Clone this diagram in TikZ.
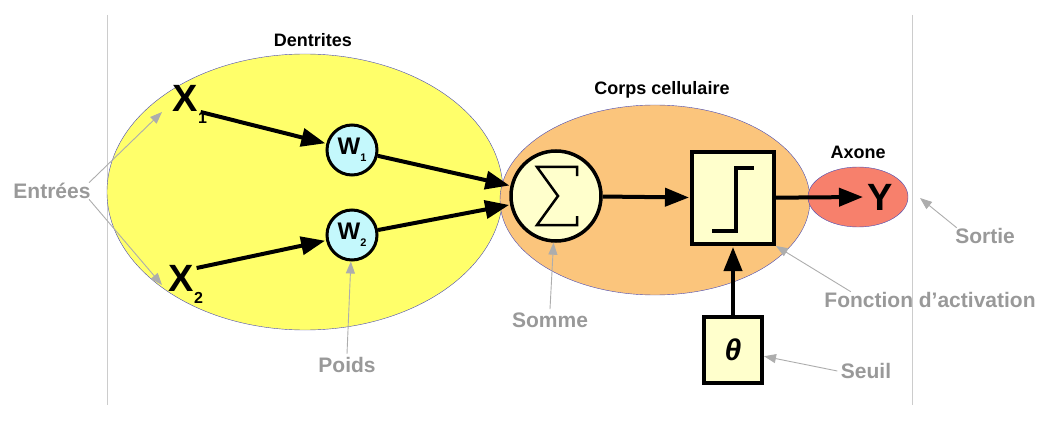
\documentclass[tikz,border=0pt]{standalone}
\usepackage{fontspec}
\setmainfont{Liberation Sans}
\usetikzlibrary{arrows.meta}
\definecolor{gtxt}{HTML}{999999}
\definecolor{yel}{HTML}{FFFF6A}
\definecolor{ora}{HTML}{FBC57C}
\definecolor{red1}{HTML}{F7806C}
\definecolor{pale}{HTML}{FFFFCC}
\definecolor{cy}{HTML}{C4F8FC}
\begin{document}
\begin{tikzpicture}[x=1pt,y=-1pt,
  lbl/.style={font=\bfseries\fontsize{18}{20}\selectfont},
  glbl/.style={font=\bfseries\fontsize{21}{23}\selectfont,text=gtxt},
  ga/.style={draw=gtxt!80,line width=0.9pt,-{Triangle[length=12pt,width=9pt]}},
  ba/.style={draw=black,line width=4pt,-{Triangle[length=24pt,width=18pt]},shorten >=1pt}]
\useasboundingbox (0,0) rectangle (1055,425);
\draw[black!20,line width=1pt] (107,15) -- (107,405) (912,15) -- (912,405);
\fill[yel, draw=blue!40!gray] (305,192) ellipse [x radius=198, y radius=138];
\fill[ora, draw=blue!40!gray] (655,200) ellipse [x radius=155, y radius=95];
\fill[red1, draw=blue!40!gray] (858,197) ellipse [x radius=50, y radius=30];
\node[lbl] (den) at (313,40) {Dentrites};
\node[lbl] (corps) at (662,90) {Corps cellulaire};
\node[lbl] (ax) at (858,152) {Axone};
\node[font=\bfseries\fontsize{38}{40}\selectfont] (x1) at (190,104) {X\raisebox{-12pt}{\fontsize{16}{16}\selectfont 1}};
\node[font=\bfseries\fontsize{38}{40}\selectfont] (x2) at (186,284) {X\raisebox{-12pt}{\fontsize{16}{16}\selectfont 2}};
\node[circle,draw,line width=3pt,fill=cy,minimum size=50pt,inner sep=0pt,font=\bfseries\fontsize{24}{24}\selectfont] (w1) at (352,150) {W\raisebox{-7pt}{\fontsize{11}{11}\selectfont 1}};
\node[circle,draw,line width=3pt,fill=cy,minimum size=50pt,inner sep=0pt,font=\bfseries\fontsize{24}{24}\selectfont] (w2) at (352,235) {W\raisebox{-7pt}{\fontsize{11}{11}\selectfont 2}};
\node[circle,draw,line width=3.5pt,fill=pale,minimum size=90pt,inner sep=0pt] (sig) at (556,196) {};
\draw[line width=2.5pt,line join=miter] (577,176) -- (577,167) -- (537,167) -- (558,196) -- (537,225) -- (577,225) -- (577,216);
\node[draw,line width=4pt,fill=pale,minimum width=82pt,minimum height=92pt] (step) at (733,198) {};
\draw[line width=4.5pt] (712,231) -- (736,231) -- (736,168) -- (754,168);
\node[draw,line width=4pt,fill=pale,minimum width=58pt,minimum height=66pt,font=\bfseries\itshape\fontsize{30}{30}\selectfont] (th) at (733,350) {θ};
\node[font=\bfseries\fontsize{38}{40}\selectfont] (y) at (880,197) {Y};
\coordinate (yin) at (864,197);
\draw[ba] (x1.east) ++(-10,8) coordinate (a1) -- (w1);
\draw[ba] (x2.east) ++(-10,-16) coordinate (a2) -- (w2);
\draw[ba] (w1) -- (sig);
\draw[ba] (w2) -- (sig);
\draw[ba] (sig) -- (step);
\draw[ba] (step) -- (yin);
\draw[ba] (th) -- (step);
\node[glbl] (ent) at (52,191) {Entrées};
\node[glbl] (poids) at (347,365) {Poids};
\node[glbl] (som) at (550,320) {Somme};
\node[glbl] (fa) at (930,300) {Fonction d’activation};
\node[glbl] (seuil) at (866,371) {Seuil};
\node[glbl] (sort) at (985,236) {Sortie};
\coordinate (t1) at (162,112); \coordinate (t2) at (162,285);
\draw[ga] (ent.north east) ++(-5,3) -- (t1);
\draw[ga] (ent.south east) ++(-5,-3) -- (t2);
\draw[ga] (poids.north) -- (w2);
\draw[ga] (som.north) -- (sig);
\draw[ga] (fa.north west) ++(30,3) -- (step.south east);
\draw[ga] (seuil.west) -- (th);
\draw[ga] (sort.north west) ++(5,3) -- (920,198);
\end{tikzpicture}
\end{document}
